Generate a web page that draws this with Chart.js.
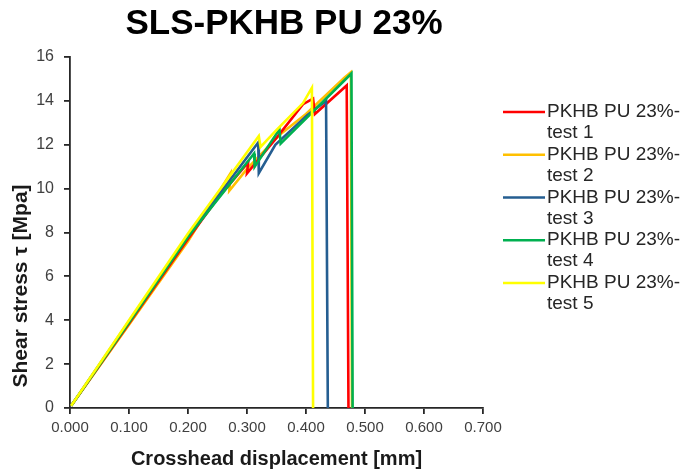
<!DOCTYPE html>
<html>
<head>
<meta charset="utf-8">
<script src="https://cdn.jsdelivr.net/npm/chart.js@4.4.1/dist/chart.umd.min.js"></script>
<style>
  html, body { margin: 0; padding: 0; background: #ffffff; }
  #wrap { width: 690px; height: 471px; position: relative; }
</style>
</head>
<body>
<div id="wrap"><canvas id="c" width="690" height="471"></canvas></div>
<script>
// ---- Data ----
const chartTitle = 'SLS-PKHB PU 23%';
const xTitle = 'Crosshead displacement [mm]';
const yTitle = 'Shear stress \u03C4 [Mpa]';
const seriesNames = ['PKHB PU 23%-\ntest 1', 'PKHB PU 23%-\ntest 2', 'PKHB PU 23%-\ntest 3', 'PKHB PU 23%-\ntest 4', 'PKHB PU 23%-\ntest 5'];
const seriesColors = ['#FF0000', '#FFC000', '#255E91', '#00B050', '#FFFF00'];

const test1X = [0.002, 0.100, 0.200, 0.250, 0.302, 0.300, 0.351, 0.395, 0.412, 0.415, 0.469, 0.472];
const test1Y = [0.1,   3.85,  7.70,  9.55,  11.2,  10.7,  12.35, 13.85, 14.1,  13.4,  14.7,  0];

const test2X = [0.002, 0.100, 0.200, 0.272, 0.270, 0.300, 0.355, 0.400, 0.465, 0.476, 0.478];
const test2Y = [0.1,   3.80,  7.60,  10.7,  9.9,   10.9,  12.45, 13.40, 15.05, 15.3,  0];

const test3X = [0.002, 0.100, 0.200, 0.319, 0.320, 0.348, 0.402, 0.434, 0.437];
const test3Y = [0.1,   3.95,  7.85,  12.1,  10.7,  12.0,  13.35, 14.0,  0];

const test4X = [0.002, 0.100, 0.200, 0.312, 0.313, 0.355, 0.357, 0.477, 0.479];
const test4Y = [0.1,   3.90,  7.80,  11.6,  11.0,  12.7,  12.05, 15.25, 0];

const test5X = [0.002, 0.100, 0.200, 0.320, 0.323, 0.351, 0.395, 0.410, 0.412];
const test5Y = [0.1,   4.00,  7.95,  12.4,  11.9,  12.7,  13.9,  14.6,  0];

const xTicks = [0, 0.1, 0.2, 0.3, 0.4, 0.5, 0.6, 0.7];
const yTicks = [0, 2, 4, 6, 8, 10, 12, 14, 16];

const allX = [test1X, test2X, test3X, test4X, test5X];
const allY = [test1Y, test2Y, test3Y, test4Y, test5Y];
const drawOrder = [3, 4, 2, 1, 0]; // lower = drawn on top

const datasets = allX.map((xs, i) => ({
  label: seriesNames[i],
  data: xs.map((x, j) => ({ x: x, y: allY[i][j] })),
  borderColor: seriesColors[i],
  backgroundColor: seriesColors[i],
  borderWidth: 2.6,
  pointRadius: 0,
  showLine: true,
  tension: 0,
  order: drawOrder[i]
}));

const FONT = '"Liberation Sans", Arial, sans-serif';

const decorPlugin = {
  id: 'decor',
  afterDraw(chart) {
    const ctx = chart.ctx;
    const area = chart.chartArea;
    ctx.save();
    // Title
    ctx.fillStyle = '#000000';
    ctx.font = 'bold 35px ' + FONT;
    ctx.textAlign = 'center';
    ctx.textBaseline = 'middle';
    ctx.fillText(chartTitle, 284, 24);
    // X axis title
    ctx.font = 'bold 20px ' + FONT;
    ctx.fillStyle = '#1a1a1a';
    ctx.fillText(xTitle, (area.left + area.right) / 2, 459);
    // Y axis title
    ctx.save();
    ctx.translate(21, 286);
    ctx.rotate(-Math.PI / 2);
    ctx.font = 'bold 21px ' + FONT;
    ctx.fillText(yTitle, 0, 0);
    ctx.restore();
    // Legend
    ctx.textAlign = 'left';
    ctx.font = '19px ' + FONT;
    for (let i = 0; i < seriesNames.length; i++) {
      const y = 112 + i * 42.75;
      ctx.strokeStyle = seriesColors[i];
      ctx.lineWidth = 2.6;
      ctx.beginPath();
      ctx.moveTo(503, y);
      ctx.lineTo(545, y);
      ctx.stroke();
      ctx.fillStyle = '#262626';
      const lines = seriesNames[i].split('\n');
      lines.forEach((ln, k) => ctx.fillText(ln, 547, y + k * 21));
    }
    ctx.restore();
  }
};

new Chart(document.getElementById('c'), {
  type: 'scatter',
  data: { datasets: datasets },
  plugins: [decorPlugin],
  options: {
    responsive: false,
    animation: false,
    layout: { padding: { top: 57, right: 207, left: 0, bottom: 0 } },
    plugins: { legend: { display: false }, title: { display: false }, tooltip: { enabled: false } },
    scales: {
      x: {
        type: 'linear',
        min: 0, max: 0.7,
        afterFit(scale) { scale.height = 63; },
        afterBuildTicks(scale) { scale.ticks = xTicks.map(v => ({ value: v })); },
        ticks: {
          callback: v => Number(v).toFixed(3),
          font: { family: FONT, size: 15 },
          color: '#404040',
          padding: 5,
          maxRotation: 0,
          autoSkip: false
        },
        grid: { drawOnChartArea: false, drawTicks: true, tickLength: 6, color: '#262626', lineWidth: 1.8 },
        border: { color: '#262626', width: 1.8 }
      },
      y: {
        type: 'linear',
        min: 0, max: 16,
        afterFit(scale) { scale.width = 70; },
        afterBuildTicks(scale) { scale.ticks = yTicks.map(v => ({ value: v })); },
        ticks: {
          font: { family: FONT, size: 16 },
          color: '#404040',
          padding: 10,
          autoSkip: false
        },
        grid: { drawOnChartArea: false, drawTicks: true, tickLength: 6, color: '#262626', lineWidth: 1.8 },
        border: { color: '#262626', width: 1.8 }
      }
    }
  }
});
</script>
</body>
</html>
